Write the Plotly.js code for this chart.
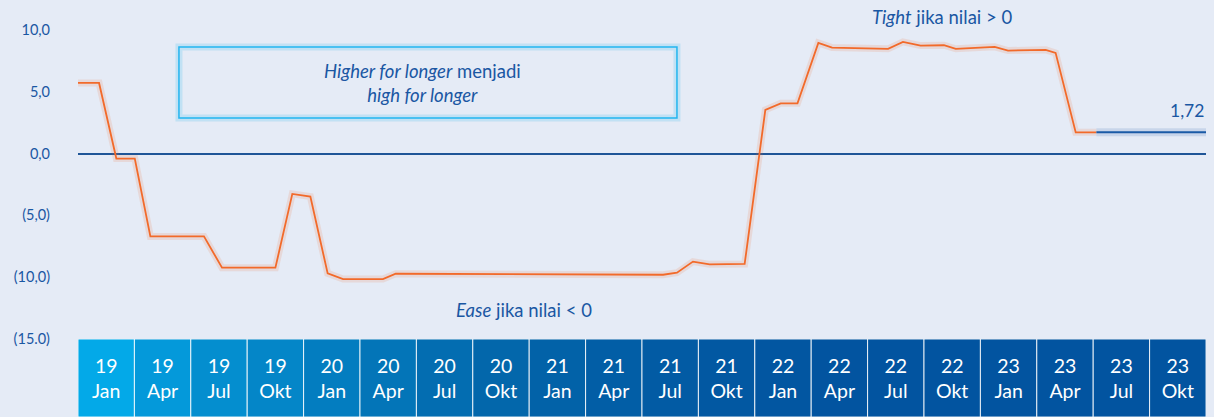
<!DOCTYPE html>
<html>
<head>
<meta charset="utf-8">
<script src="https://cdn.plot.ly/plotly-3.0.1.min.js"></script>
<style>
html,body{margin:0;padding:0;background:#e5ebf6;}
#chart{width:1214px;height:417px;}
</style>
</head>
<body>
<div id="chart"></div>
<script>
// Monetary stance index (months since Jan 2019 on x)
const monthIdx = [0, 1.12, 2.04, 3.02, 3.85, 6.70, 7.66, 10.5, 11.40, 12.36, 13.28, 14.10, 16.22, 16.90, 31.12, 31.86, 32.71, 33.60, 35.46, 36.56, 37.38, 38.27, 39.38, 40.11, 43.09, 43.88, 44.82, 46.06, 46.69, 48.76, 49.47, 51.47, 52.0, 53.07, 54.17];
const stance = [5.72, 5.72, -0.40, -0.40, -6.70, -6.70, -9.23, -9.23, -3.26, -3.48, -9.69, -10.15, -10.15, -9.72, -9.80, -9.64, -8.74, -8.96, -8.93, 3.54, 4.07, 4.07, 8.96, 8.58, 8.48, 9.04, 8.74, 8.77, 8.48, 8.64, 8.34, 8.40, 8.15, 1.72, 1.72];
const latestX = [54.17, 60];
const latestY = [1.72, 1.72];
const latestLabel = '1,72';

// Quarter boxes
const qYears = ['19','19','19','19','20','20','20','20','21','21','21','21','22','22','22','22','23','23','23','23'];
const qMonths = ['Jan','Apr','Jul','Okt','Jan','Apr','Jul','Okt','Jan','Apr','Jul','Okt','Jan','Apr','Jul','Okt','Jan','Apr','Jul','Okt'];
const qCats = qYears.map((y, i) => y + ' ' + qMonths[i]);
const qHeight = qCats.map(() => 1);

// Y tick labels
const yTickVals = [10, 5, 0, -5, -10, -15];
const yTickText = ['10,0', '5,0', '0,0', '(5,0)', '(10,0)', '(15.0)'];

const boxColors = ['#03a9e8','#0499da','#048ecf','#0486c8','#037dc0','#0375b8','#036db1','#0367ab','#0262a8','#025ea6','#025ba4','#0258a2','#0256a1','#0254a0','#0254a0','#0254a0','#0254a0','#0254a0','#0254a0','#0254a0'];

const txtBlue = '#1a57a3';
const orange = '#f26a2a';
const FONT = 'Lato, "Open Sans", sans-serif';

const traces = [
  {x: monthIdx, y: stance, type: 'scatter', mode: 'lines', xaxis: 'x', yaxis: 'y',
   line: {color: 'rgba(242,106,42,0.14)', width: 7}, hoverinfo: 'skip', showlegend: false},
  {x: latestX, y: latestY, type: 'scatter', mode: 'lines', xaxis: 'x', yaxis: 'y',
   line: {color: 'rgba(26,87,163,0.14)', width: 8}, hoverinfo: 'skip', showlegend: false},
  {x: monthIdx, y: stance, type: 'scatter', mode: 'lines', xaxis: 'x', yaxis: 'y',
   line: {color: orange, width: 1.8}, showlegend: false},
  {x: latestX, y: latestY, type: 'scatter', mode: 'lines', xaxis: 'x', yaxis: 'y',
   line: {color: '#1a5aa6', width: 2}, showlegend: false},
  {x: qCats, y: qHeight, type: 'bar', xaxis: 'x2', yaxis: 'y2',
   marker: {color: boxColors, line: {color: 'rgba(255,255,255,0.85)', width: 1}},
   text: qYears.map((y, i) => y + '<br>' + qMonths[i]),
   textposition: 'inside', insidetextanchor: 'middle', constraintext: 'none',
   textfont: {color: '#ffffff', size: 19.5, family: FONT}, hoverinfo: 'skip', showlegend: false}
];

const layout = {
  width: 1214, height: 417,
  margin: {l: 78, r: 8, t: 0, b: 0, pad: 0},
  paper_bgcolor: '#e5ebf6', plot_bgcolor: 'rgba(0,0,0,0)',
  font: {family: FONT, color: txtBlue},
  showlegend: false,
  bargap: 0,
  xaxis: {domain: [0, 1], range: [0, 60], showgrid: false, zeroline: false, showticklabels: false, ticks: '', fixedrange: true},
  yaxis: {domain: [78/417, 1], range: [-15, 12.43], showgrid: false, zeroline: true,
          zerolinecolor: '#1f5597', zerolinewidth: 2,
          tickvals: yTickVals, ticktext: yTickText, ticks: '', ticklabelstandoff: 27,
          tickfont: {size: 14.5, color: txtBlue, family: FONT}, fixedrange: true},
  xaxis2: {domain: [0, 1], anchor: 'y2', type: 'category', range: [-0.5, 19.5], showticklabels: false, showgrid: false, zeroline: false, ticks: ''},
  yaxis2: {domain: [0, 78/417], anchor: 'x2', range: [0, 1], showticklabels: false, showgrid: false, zeroline: false, ticks: ''},
  shapes: [
    {type: 'rect', xref: 'paper', yref: 'paper', x0: 0.0895, x1: 0.531, y0: 0.717, y1: 0.887,
     line: {color: 'rgba(34,181,239,0.18)', width: 7}, fillcolor: 'rgba(0,0,0,0)', layer: 'below'},
    {type: 'rect', xref: 'paper', yref: 'paper', x0: 0.0895, x1: 0.531, y0: 0.717, y1: 0.887,
     line: {color: '#22b5ef', width: 1.5}, fillcolor: 'rgba(0,0,0,0)', layer: 'below'}
  ],
  annotations: [
    {xref: 'paper', yref: 'paper', x: 0.3055, y: 0.801, xanchor: 'center', yanchor: 'middle', showarrow: false,
     text: '<i>Higher for longer</i> menjadi<br><i>high for longer</i>', font: {size: 18.5, color: txtBlue, family: FONT}},
    {xref: 'paper', yref: 'paper', x: 0.766, y: 0.959, xanchor: 'center', yanchor: 'middle', showarrow: false,
     text: '<i>Tight</i> jika nilai &gt; 0', font: {size: 18.5, color: txtBlue, family: FONT}},
    {xref: 'paper', yref: 'paper', x: 0.395, y: 0.257, xanchor: 'center', yanchor: 'middle', showarrow: false,
     text: '<i>Ease</i> jika nilai &lt; 0', font: {size: 18.5, color: txtBlue, family: FONT}},
    {xref: 'paper', yref: 'paper', x: 1.0, y: 0.7346, xanchor: 'right', yanchor: 'middle', showarrow: false,
     text: latestLabel, font: {size: 17.5, color: txtBlue, family: FONT}}
  ]
};

Plotly.newPlot('chart', traces, layout, {staticPlot: true, displayModeBar: false});
</script>
</body>
</html>
